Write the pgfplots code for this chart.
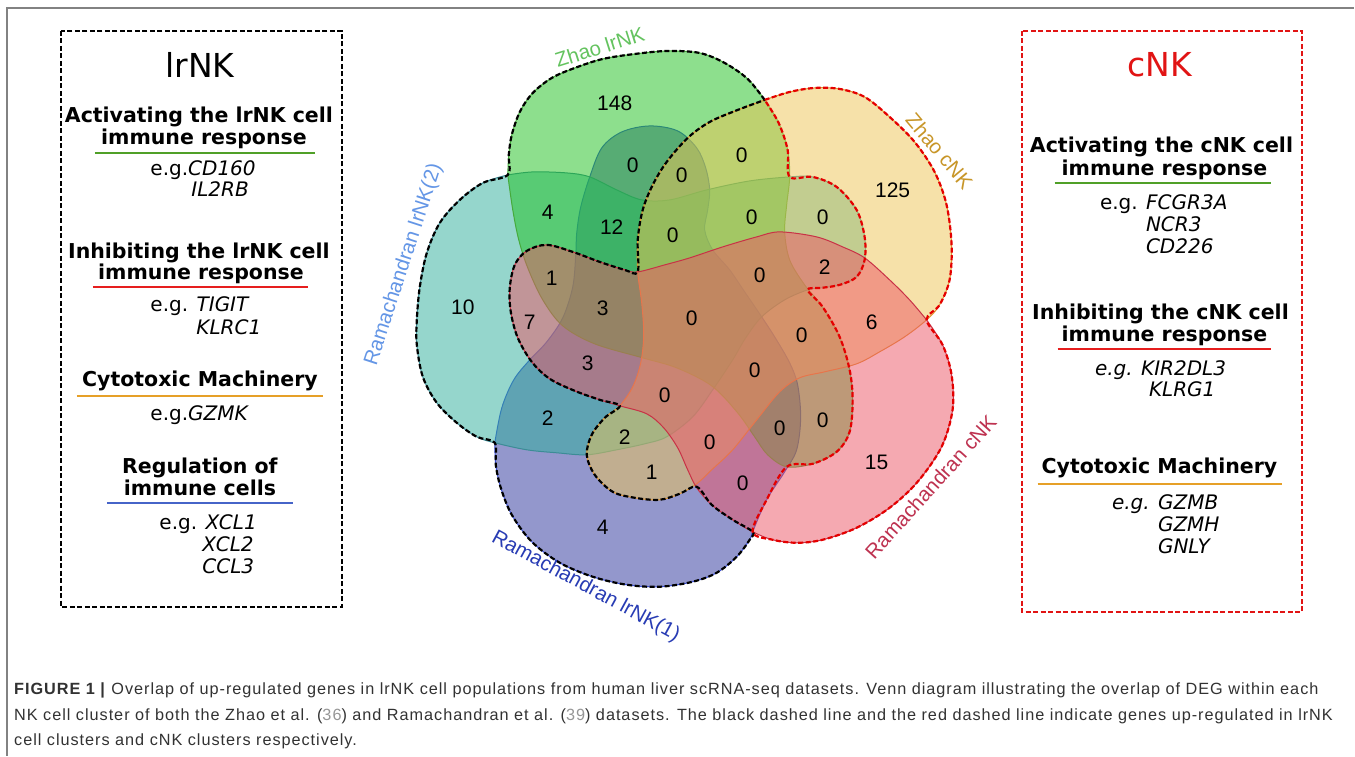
\documentclass[border=0pt]{standalone}
\usepackage{pgfplots}
\pgfplotsset{compat=1.18}
\usepackage{fontspec}
\setmainfont{Liberation Sans}
\newfontfamily\vfont{DejaVu Sans}
\newfontfamily\capfont{Liberation Sans}[LetterSpace=6]
\definecolor{gfill}{RGB}{29,193,29}
\definecolor{yfill}{RGB}{239,197,85}
\definecolor{rfill}{RGB}{237,85,101}
\definecolor{bfill}{RGB}{41,49,155}
\definecolor{tfill}{RGB}{45,175,155}
\definecolor{gline}{RGB}{70,170,60}
\definecolor{yline}{RGB}{225,150,50}
\definecolor{rline}{RGB}{200,50,70}
\definecolor{bline}{RGB}{60,80,210}
\definecolor{tline}{RGB}{60,140,150}
\definecolor{ulgreen}{RGB}{80,160,40}
\definecolor{ulred}{RGB}{230,30,30}
\definecolor{ulorange}{RGB}{230,160,40}
\definecolor{ulblue}{RGB}{70,100,200}
\definecolor{boxred}{RGB}{225,20,20}
\definecolor{captxt}{RGB}{50,50,50}
\definecolor{citegray}{RGB}{150,150,150}
\definecolor{framegray}{RGB}{130,130,130}
\newcommand{\hfont}{\vfont\bfseries\fontsize{20.5}{24}\selectfont}
\newcommand{\bfont}{\vfont\fontsize{20}{24}\selectfont}
\newcommand{\lfont}{\fontsize{20.5}{24}\selectfont}
\newcommand{\cfont}{\capfont\fontsize{16.25}{19}\selectfont}
\begin{document}
\begin{tikzpicture}
\begin{axis}[
  width=1355pt, height=756pt, scale only axis,
  xmin=0, xmax=1355, ymin=0, ymax=756, y dir=reverse,
  hide axis, clip=false,
  venn/.style={smooth, tension=0.55, fill opacity=0.5, line width=1pt},
  dashloop/.style={smooth, tension=0.55, line width=2.2pt, dash pattern=on 5pt off 2.5pt},
]
\fill[white] (axis cs:0,0) rectangle (axis cs:1355,756);
% frame
\draw[framegray, line width=1.2pt] (axis cs:7,756) -- (axis cs:7,8) -- (axis cs:1355,8);

% Blue: Ramachandran lrNK(1)
\addplot[venn, fill=bfill, draw=bline] coordinates {
(495,443) (496,465) (501,488) (512,515) (532,542) (560,563) (593,577) (627,585) (660,587) (693,582) (717,573) (737,557) (750,540) (753,532) (767,500) (785,472) (797,450) (801,418) (798,385) (790,363) (775,337) (760,314) (745,292) (730,270) (713,250) (705,230) (708,210) (710,190) (706,168) (697,148) (678,131) (650,126) (622,132) (602,148) (590,177) (581,207) (577,233) (576,255) (573,287) (563,318) (547,342) (530,360) (514,380) (502,408) (495,443)};
% Teal: Ramachandran lrNK(2)
\addplot[venn, fill=tfill, draw=tline] coordinates {
(508,175) (483,183) (460,200) (440,223) (427,253) (420,287) (417,320) (417,345) (423,377) (437,403) (457,423) (477,437) (495,443) (527,450) (557,453) (587,455) (617,450) (645,444) (667,437) (693,417) (713,390) (733,360) (746,338) (762,317) (785,300) (808,290) (822,288) (840,285) (857,277) (865,260) (865,237) (857,210) (837,187) (813,177) (790,177) (750,181) (707,190) (670,200) (642,200) (617,190) (590,177) (567,173) (533,172) (508,175)};
% Green: Zhao lrNK
\addplot[venn, fill=gfill, draw=gline] coordinates {
(508,175) (509,155) (512,135) (520,112) (533,93) (552,78) (575,68) (603,59) (635,54) (668,51) (700,53) (725,63) (748,79) (765,100) (779,123) (788,150) (790,177) (787,205) (785,232) (790,260) (805,285) (823,307) (840,337) (850,370) (853,400) (850,432) (837,452) (813,464) (787,467) (768,455) (755,437) (738,413) (712,386) (677,368) (643,358) (595,344) (563,326) (543,300) (528,268) (519,240) (513,210) (508,175)};
% Yellow: Zhao cNK
\addplot[venn, fill=yfill, draw=yline] coordinates {
(765,100) (790,92) (815,88) (840,89) (865,97) (890,117) (915,142) (935,172) (947,205) (952,245) (950,280) (940,305) (927,320) (905,337) (880,352) (857,364) (825,372) (800,378) (780,392) (757,420) (733,450) (712,470) (697,484) (680,494) (660,500) (635,498) (613,492) (595,475) (587,455) (592,435) (605,418) (620,406) (633,387) (641,363) (644,335) (642,303) (638,272) (638,240) (643,210) (653,185) (667,162) (688,138) (710,122) (738,110) (765,100)};
% Pink: Ramachandran cNK
\addplot[venn, fill=rfill, draw=rline] coordinates {
(927,320) (943,345) (952,375) (953,410) (942,447) (918,482) (890,508) (857,528) (823,540) (797,543) (773,540) (753,532) (733,520) (712,505) (697,488) (688,470) (678,448) (664,428) (647,414) (620,406) (600,400) (575,391) (550,379) (532,362) (518,338) (511,312) (510,288) (515,265) (527,251) (547,245) (573,252) (600,262) (625,270) (638,272) (665,265) (690,258) (723,247) (757,237) (780,232) (817,237) (843,247) (865,258) (890,280) (910,300) (927,320)};

% black dashed loop (lrNK-only union)
\addplot[dashloop, draw=black] coordinates {
(765,100) (748,79) (725,63) (700,53) (668,51) (635,54) (603,59) (575,68) (552,78) (533,93) (520,112) (512,135) (509,155) (508,175) (483,183) (460,200) (440,223) (427,253) (420,287) (417,320) (417,345) (423,377) (437,403) (457,423) (477,437) (495,443) (496,465) (501,488) (512,515) (532,542) (560,563) (593,577) (627,585) (660,587) (693,582) (717,573) (737,557) (750,540) (753,532) (733,520) (712,505) (697,487) (680,494) (660,500) (635,498) (613,492) (595,475) (587,455) (592,435) (605,418) (620,406) (600,400) (575,391) (550,379) (532,362) (518,338) (511,312) (510,288) (515,265) (527,251) (547,245) (573,252) (600,262) (625,270) (638,272) (638,240) (643,210) (653,185) (667,162) (688,138) (710,122) (738,110) (765,100)};
% red dashed loop (cNK-only union)
\addplot[dashloop, draw=red!90!black] coordinates {
(765,100) (790,92) (815,88) (840,89) (865,97) (890,117) (915,142) (935,172) (947,205) (952,245) (950,280) (940,305) (927,320) (943,345) (952,375) (953,410) (942,447) (918,482) (890,508) (857,528) (823,540) (797,543) (773,540) (753,532) (767,500) (787,467) (813,464) (837,452) (850,432) (853,400) (850,370) (840,337) (823,307) (808,290) (822,288) (840,285) (857,277) (865,260) (865,237) (857,210) (837,187) (813,177) (790,177) (788,150) (779,123) (765,100)};

% region counts
\addplot[draw=none, mark=none, nodes near coords, point meta=explicit symbolic,
  every node near coord/.append style={anchor=center, font=\fontsize{21}{24}\selectfont, text=black}]
table[meta=n] {
x y n
615 103 148
633 165 0
682 175 0
742 155 0
893 190 125
548 212 4
612 227 12
673 235 0
752 217 0
823 217 0
463 307 10
552 278 1
825 267 2
760 275 0
603 308 3
530 322 7
692 318 0
802 335 0
872 322 6
588 363 3
755 370 0
665 395 0
548 418 2
823 420 0
780 428 0
625 437 2
710 442 0
652 472 1
743 483 0
877 463 15
603 528 4
};

% set labels
\node[rotate=17.5, text={rgb,255:red,100;green,195;blue,95}, font=\lfont] at (axis cs:600,47) {Zhao lrNK};
\node[rotate=-50, text={rgb,255:red,200;green,150;blue,40}, font=\lfont] at (axis cs:940,151) {Zhao cNK};
\node[rotate=72, text={rgb,255:red,100;green,150;blue,230}, font=\lfont] at (axis cs:404,265) {Ramachandran lrNK(2)};
\node[rotate=-28.5, text={rgb,255:red,40;green,60;blue,180}, font=\lfont] at (axis cs:586,587) {Ramachandran lrNK(1)};
\node[rotate=48, text={rgb,255:red,190;green,50;blue,80}, font=\lfont] at (axis cs:931,487) {Ramachandran cNK};

% left box
\draw[black, line width=2pt, dash pattern=on 5pt off 2.5pt] (axis cs:61,31) rectangle (axis cs:342,607);
\node[anchor=center, font=\vfont\fontsize{33}{36}\selectfont] at (axis cs:200,65) {lrNK};
\node[anchor=mid] at (axis cs:199,120) {\hfont Activating the lrNK cell};
\node[anchor=mid] at (axis cs:204,142) {\hfont immune response};
\draw[ulgreen, line width=2.5pt] (axis cs:95,153) -- (axis cs:315,153);
\node[anchor=mid west] at (axis cs:147,173) {\bfont e.g.\textit{CD160}};
\node[anchor=mid west] at (axis cs:188,194) {\bfont\textit{IL2RB}};
\node[anchor=mid] at (axis cs:199,256) {\hfont Inhibiting the lrNK cell};
\node[anchor=mid] at (axis cs:201,277) {\hfont immune response};
\draw[ulred, line width=2.5pt] (axis cs:93,287) -- (axis cs:308,287);
\node[anchor=mid west] at (axis cs:147,309) {\bfont e.g. \textit{TIGIT}};
\node[anchor=mid west] at (axis cs:193,332) {\bfont\textit{KLRC1}};
\node[anchor=mid] at (axis cs:200,384) {\hfont Cytotoxic Machinery};
\draw[ulorange, line width=2.5pt] (axis cs:77,396) -- (axis cs:323,396);
\node[anchor=mid west] at (axis cs:147,418) {\bfont e.g.\textit{GZMK}};
\node[anchor=mid] at (axis cs:200,471) {\hfont Regulation of};
\node[anchor=mid] at (axis cs:200,493) {\hfont immune cells};
\draw[ulblue, line width=2.5pt] (axis cs:107,503) -- (axis cs:293,503);
\node[anchor=mid west] at (axis cs:156,527) {\bfont e.g. \textit{XCL1}};
\node[anchor=mid west] at (axis cs:199,549) {\bfont\textit{XCL2}};
\node[anchor=mid west] at (axis cs:199,571) {\bfont\textit{CCL3}};

% right box
\draw[boxred, line width=2pt, dash pattern=on 5pt off 2.5pt] (axis cs:1022,31) rectangle (axis cs:1303,612);
\node[anchor=center, text=boxred, font=\vfont\fontsize{33}{36}\selectfont] at (axis cs:1160,65) {cNK};
\node[anchor=mid] at (axis cs:1162,150) {\hfont Activating the cNK cell};
\node[anchor=mid] at (axis cs:1165,173) {\hfont immune response};
\draw[ulgreen, line width=2.5pt] (axis cs:1055,183) -- (axis cs:1272,183);
\node[anchor=mid west] at (axis cs:1097,207) {\bfont e.g. \textit{FCGR3A}};
\node[anchor=mid west] at (axis cs:1143,229) {\bfont\textit{NCR3}};
\node[anchor=mid west] at (axis cs:1143,251) {\bfont\textit{CD226}};
\node[anchor=mid] at (axis cs:1161,317) {\hfont Inhibiting the cNK cell};
\node[anchor=mid] at (axis cs:1165,339) {\hfont immune response};
\draw[ulred, line width=2.5pt] (axis cs:1058,349) -- (axis cs:1272,349);
\node[anchor=mid west] at (axis cs:1092,373) {\bfont\textit{e.g. KIR2DL3}};
\node[anchor=mid west] at (axis cs:1146,394) {\bfont\textit{KLRG1}};
\node[anchor=mid] at (axis cs:1160,471) {\hfont Cytotoxic Machinery};
\draw[ulorange, line width=2.5pt] (axis cs:1038,484) -- (axis cs:1283,484);
\node[anchor=mid west] at (axis cs:1109,507) {\bfont\textit{e.g. GZMB}};
\node[anchor=mid west] at (axis cs:1155,529) {\bfont\textit{GZMH}};
\node[anchor=mid west] at (axis cs:1155,551) {\bfont\textit{GNLY}};

% caption
\node[anchor=base west, text=captxt, font=\cfont, inner sep=0pt] at (axis cs:14,695) {\textbf{FIGURE 1 |} Overlap of up-regulated genes in lrNK cell populations from human liver scRNA-seq datasets. Venn diagram illustrating the overlap of DEG within each};
\node[anchor=base west, text=captxt, font=\cfont, inner sep=0pt] at (axis cs:14,721) {NK cell cluster of both the Zhao et al. (\textcolor{citegray}{36}) and Ramachandran et al. (\textcolor{citegray}{39}) datasets. The black dashed line and the red dashed line indicate genes up-regulated in lrNK};
\node[anchor=base west, text=captxt, font=\cfont, inner sep=0pt] at (axis cs:14,746) {cell clusters and cNK clusters respectively.};
\end{axis}
\end{tikzpicture}
\end{document}
